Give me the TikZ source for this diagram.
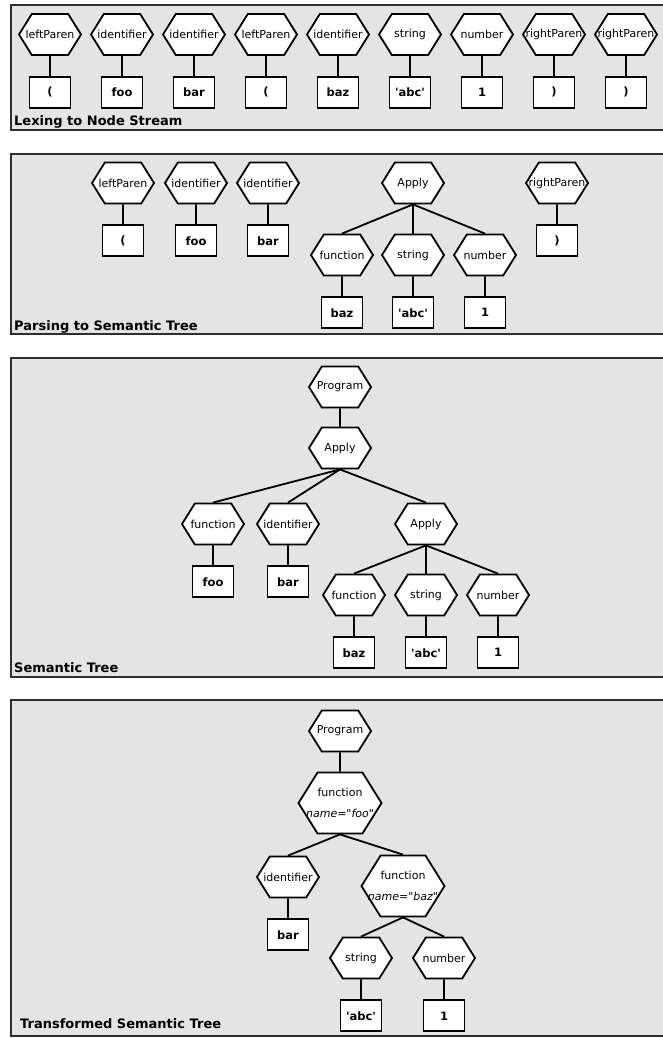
\documentclass[tikz,border=0pt]{standalone}
\usepackage{fontspec}
\setmainfont{DejaVu Sans}[Ligatures=TeXOff]
\usetikzlibrary{positioning,shapes.symbols}
\definecolor{panelfill}{HTML}{E4E4E4}
\definecolor{panelline}{HTML}{2E2E2E}
\newcommand{\kindtext}[2][30pt]{\makebox[#1]{#2}}
\newcommand{\sq}{\textquotesingle}

\begin{document}
\begin{tikzpicture}[x=1pt, y=-1pt, node distance=20pt,
  hexnode/.style={shape=signal, signal to=east and west, signal pointer angle=116, draw=black, fill=white, line width=1.8pt, minimum width=62pt, minimum height=41pt, inner sep=1pt, font=\fontsize{11}{13}\selectfont},
  namehex/.style={hexnode, minimum width=83pt, minimum height=61pt, align=center, font=\fontsize{11}{21}\selectfont},
  leafbox/.style={draw=black, fill=white, line width=1.8pt, minimum width=41pt, minimum height=31pt, inner sep=1pt, font=\fontsize{11.5}{13}\selectfont\bfseries},
  panel/.style={fill=panelfill, draw=panelline, line width=1.6pt},
  panellabel/.style={anchor=base west, inner sep=0pt, font=\fontsize{13}{15}\selectfont\bfseries},
  link/.style={line width=1.8pt}]
\useasboundingbox (0,0) rectangle (663,1038);

\draw[panel] (11,5) rectangle (690,130);
\node[panellabel] (lexlabel) at (14,125) {Lexing to Node Stream};
\node[hexnode] (lx1) at (50,34.5) {\kindtext{leftParen}};
\node[hexnode] (lx2) at (122,34.5) {\kindtext{identifier}};
\node[hexnode] (lx3) at (194,34.5) {\kindtext{identifier}};
\node[hexnode] (lx4) at (266,34.5) {\kindtext{leftParen}};
\node[hexnode] (lx5) at (338,34.5) {\kindtext{identifier}};
\node[hexnode] (lx6) at (410,34.5) {\kindtext{string}};
\node[hexnode] (lx7) at (482,34.5) {\kindtext{number}};
\node[hexnode] (lx8) at (554,34.5) {\kindtext{rightParen}};
\node[hexnode] (lx9) at (626,34.5) {\kindtext{rightParen}};
\node[leafbox, below=of lx1] (lv1) {(};
\node[leafbox, below=of lx2] (lv2) {foo};
\node[leafbox, below=of lx3] (lv3) {bar};
\node[leafbox, below=of lx4] (lv4) {(};
\node[leafbox, below=of lx5] (lv5) {baz};
\node[leafbox, below=of lx6] (lv6) {\sq abc\sq};
\node[leafbox, below=of lx7] (lv7) {1};
\node[leafbox, below=of lx8] (lv8) {)};
\node[leafbox, below=of lx9] (lv9) {)};
\draw[link] (lx1) -- (lv1);
\draw[link] (lx2) -- (lv2);
\draw[link] (lx3) -- (lv3);
\draw[link] (lx4) -- (lv4);
\draw[link] (lx5) -- (lv5);
\draw[link] (lx6) -- (lv6);
\draw[link] (lx7) -- (lv7);
\draw[link] (lx8) -- (lv8);
\draw[link] (lx9) -- (lv9);

\draw[panel] (11,154) rectangle (690,334);
\node[panellabel] (parselabel) at (14,330) {Parsing to Semantic Tree};
\node[hexnode] (ps1) at (123,183) {\kindtext{leftParen}};
\node[hexnode] (ps2) at (196,183) {\kindtext{identifier}};
\node[hexnode] (ps3) at (268,183) {\kindtext{identifier}};
\node[hexnode] (psapp) at (413,183) {\kindtext{Apply}};
\node[hexnode] (psrp) at (557,183) {\kindtext{rightParen}};
\node[hexnode] (psfn) at (342,255) {\kindtext{function}};
\node[hexnode] (psstr) at (413,255) {\kindtext{string}};
\node[hexnode] (psnum) at (485,255) {\kindtext{number}};
\node[leafbox, below=of ps1] (pv1) {(};
\node[leafbox, below=of ps2] (pv2) {foo};
\node[leafbox, below=of ps3] (pv3) {bar};
\node[leafbox, below=of psrp] (pvrp) {)};
\node[leafbox, below=of psfn] (pvfn) {baz};
\node[leafbox, below=of psstr] (pvstr) {\sq abc\sq};
\node[leafbox, below=of psnum] (pvnum) {1};
\draw[link] (ps1) -- (pv1);
\draw[link] (ps2) -- (pv2);
\draw[link] (ps3) -- (pv3);
\draw[link] (psrp) -- (pvrp);
\draw[link] (psapp.south) -- (psfn.north);
\draw[link] (psapp.south) -- (psstr.north);
\draw[link] (psapp.south) -- (psnum.north);
\draw[link] (psfn) -- (pvfn);
\draw[link] (psstr) -- (pvstr);
\draw[link] (psnum) -- (pvnum);

\draw[panel] (11,358) rectangle (690,677);
\node[panellabel] (semlabel) at (14,672) {Semantic Tree};
\node[hexnode] (stprog) at (340,387) {\kindtext{Program}};
\node[hexnode] (stapp) at (340,448) {\kindtext{Apply}};
\node[hexnode] (stfn) at (213,524) {\kindtext{function}};
\node[hexnode] (stid) at (288,524) {\kindtext{identifier}};
\node[hexnode] (stapp2) at (426,524) {\kindtext{Apply}};
\node[hexnode] (stfn2) at (354,595) {\kindtext{function}};
\node[hexnode] (ststr) at (426,595) {\kindtext{string}};
\node[hexnode] (stnum) at (498,595) {\kindtext{number}};
\node[leafbox, below=of stfn] (svfn) {foo};
\node[leafbox, below=of stid] (svid) {bar};
\node[leafbox, below=of stfn2] (svfn2) {baz};
\node[leafbox, below=of ststr] (svstr) {\sq abc\sq};
\node[leafbox, below=of stnum] (svnum) {1};
\draw[link] (stprog) -- (stapp);
\draw[link] (stapp.south) -- (stfn.north);
\draw[link] (stapp.south) -- (stid.north);
\draw[link] (stapp.south) -- (stapp2.north);
\draw[link] (stapp2.south) -- (stfn2.north);
\draw[link] (stapp2.south) -- (ststr.north);
\draw[link] (stapp2.south) -- (stnum.north);
\draw[link] (stfn) -- (svfn);
\draw[link] (stid) -- (svid);
\draw[link] (stfn2) -- (svfn2);
\draw[link] (ststr) -- (svstr);
\draw[link] (stnum) -- (svnum);

\draw[panel] (11,700) rectangle (690,1036);
\node[panellabel] (translabel) at (20,1028) {Transformed Semantic Tree};
\node[hexnode] (trprog) at (340,731) {\kindtext{Program}};
\node[namehex] (trfoo) at (340,803) {\kindtext[40pt]{function}\\\kindtext[40pt]{\itshape name="foo"}};
\node[hexnode] (trid) at (288,877) {\kindtext{identifier}};
\node[namehex] (trbaz) at (403,886) {\kindtext[40pt]{function}\\\kindtext[40pt]{\itshape name="baz"}};
\node[hexnode] (trstr) at (361,958) {\kindtext{string}};
\node[hexnode] (trnum) at (444,958) {\kindtext{number}};
\node[leafbox, below=of trid] (tvid) {bar};
\node[leafbox, below=of trstr] (tvstr) {\sq abc\sq};
\node[leafbox, below=of trnum] (tvnum) {1};
\draw[link] (trprog) -- (trfoo);
\draw[link] (trfoo.south) -- (trid.north);
\draw[link] (trfoo.south) -- (trbaz.north);
\draw[link] (trbaz.south) -- (trstr.north);
\draw[link] (trbaz.south) -- (trnum.north);
\draw[link] (trid) -- (tvid);
\draw[link] (trstr) -- (tvstr);
\draw[link] (trnum) -- (tvnum);
\end{tikzpicture}
\end{document}
